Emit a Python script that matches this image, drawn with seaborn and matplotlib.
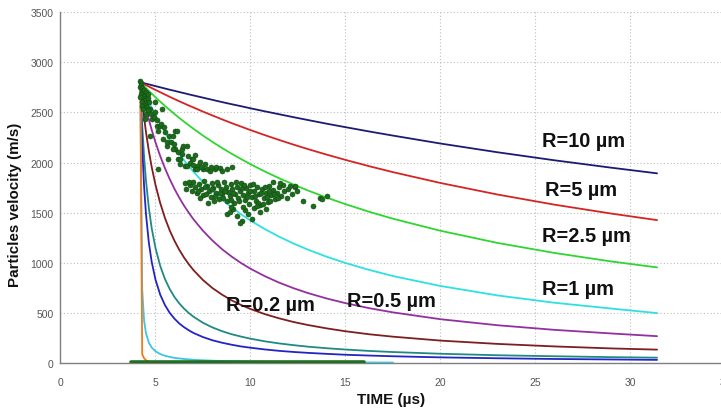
import numpy as np
import pandas as pd
import matplotlib
matplotlib.use("Agg")
import matplotlib.pyplot as plt
import seaborn as sns

# ---------------------------------------------------------------- data
# common time grid (µs) for the computed particle velocity curves
time_us = [4.2, 4.3, 4.4, 4.5, 4.65, 4.8, 5.0, 5.25, 5.5, 5.75, 6.0, 6.25,
           6.5, 6.75, 7.0, 7.5, 8.0, 8.5, 9.0, 9.5, 10.0, 10.75, 11.5, 12.25,
           13.0, 14.0, 15.0, 16.25, 17.5, 20.0, 23.0, 26.0, 29.0, 31.4]

nan = float("nan")

# particle velocity (m/s) for each particle radius
v_r10 = [2800, 2795, 2790, 2785, 2778, 2771, 2761, 2749, 2737, 2725, 2714, 2702,
         2691, 2679, 2668, 2646, 2624, 2602, 2581, 2561, 2540, 2510, 2481, 2452,
         2424, 2387, 2352, 2309, 2268, 2189, 2102, 2022, 1948, 1892]
v_r5 = [2800, 2790, 2780, 2771, 2756, 2742, 2723, 2700, 2677, 2654, 2632, 2610,
        2589, 2568, 2548, 2507, 2468, 2430, 2393, 2358, 2323, 2273, 2225, 2179,
        2135, 2079, 2026, 1963, 1904, 1796, 1681, 1580, 1491, 1426]
v_r2_5 = [2800, 2780, 2761, 2742, 2713, 2686, 2650, 2606, 2563, 2523, 2483, 2444,
          2407, 2371, 2336, 2268, 2205, 2145, 2088, 2035, 1983, 1911, 1844, 1782,
          1723, 1651, 1585, 1509, 1440, 1320, 1199, 1099, 1014, 955]
v_r1 = [2800, 2754, 2709, 2666, 2604, 2545, 2470, 2382, 2301, 2224, 2153, 2086,
        2023, 1964, 1908, 1805, 1713, 1630, 1554, 1485, 1422, 1337, 1262, 1194,
        1134, 1062, 999, 930, 869, 770, 676, 603, 545, 500]
v_r0_5 = [2800, 2708, 2622, 2541, 2428, 2326, 2201, 2063, 1942, 1834, 1737, 1650,
          1571, 1500, 1434, 1320, 1222, 1137, 1064, 999, 942, 868, 804, 749,
          701, 646, 599, 549, 507, 439, 379, 333, 297, 270]
v_r0_2 = [2800, 2612, 2448, 2303, 2115, 1955, 1777, 1595, 1446, 1323, 1220, 1131,
          1054, 987, 928, 829, 749, 684, 628, 581, 541, 490, 448, 412,
          382, 348, 319, 289, 265, 226, 193, 168, 148, 136]
v_r0_1 = [2800, 2373, 2059, 1818, 1547, 1346, 1148, 969, 838, 739, 660, 597,
          545, 501, 464, 403, 357, 320, 290, 266, 245, 219, 198, 181,
          166, 150, 137, 123, 112, 95, 80, 70, 61, 56]
v_r0_05 = [2800, 2162, 1761, 1485, 1203, 1011, 833, 683, 579, 502, 444, 397,
           360, 329, 302, 261, 229, 205, 185, 168, 155, 138, 124, 113,
           104, 94, 85, 77, 70, 59, 50, 43, 38, 34]
v_r0_02 = [2800, 737, 424, 298, 206, 157, 120, 92, 75, 63, 54, 48,
           43, 39, 35, 30, 26, 23, 21, 19, 17, 15, 14, 12,
           11, 10, 9, 8, 7.5, nan, nan, nan, nan, nan]
v_r0_01 = [2800, 90, 50, 30, 18, 12, 8, 5, 3, 2, 1, nan,
           nan, nan, nan, nan, nan, nan, nan, nan, nan, nan, nan, nan,
           nan, nan, nan, nan, nan, nan, nan, nan, nan, nan]

# measured particle velocities
meas_t = [
    4.18, 4.22, 4.25, 4.20, 4.30, 4.28, 4.35, 4.24, 4.40, 4.32, 4.45, 4.28, 4.50,
    4.38, 4.55, 4.60, 4.42, 4.50, 4.65, 4.30, 4.70, 4.35, 4.62, 4.20, 4.48,
    4.97, 5.33, 4.45, 4.80, 5.06, 5.15, 6.03, 5.41, 5.59, 6.03, 6.38, 6.64,
    5.67, 6.20, 6.91, 6.55, 7.17, 7.52, 7.08, 5.15, 8.13, 8.75, 9.01,
    5.24, 6.12, 4.71, 5.59, 5.94, 6.46, 6.29, 6.64, 7.17, 7.69, 6.99, 7.34, 7.87,
    4.60, 4.75, 4.90, 5.00, 5.10, 5.30, 5.50, 5.70, 5.80, 6.00, 6.20, 6.40, 6.70,
    6.80, 7.00, 7.40, 7.60, 7.90, 8.20, 8.40, 8.50, 6.30, 7.10, 5.90, 5.45,
    6.55, 6.60, 6.80, 6.90, 7.00, 7.10, 7.20, 7.30, 7.40, 7.50, 7.55, 7.70, 7.80,
    7.90, 8.00, 8.05, 8.20, 8.30, 8.35, 8.45, 8.50, 8.60, 8.70, 8.75, 8.80, 8.90,
    9.00, 9.05, 9.15, 9.20, 9.30, 9.35, 9.45, 9.50, 9.60, 9.70, 9.75, 9.85, 9.90,
    10.00, 10.10, 10.20, 10.30, 10.35, 10.45, 10.50, 10.60, 10.70, 10.80, 10.90,
    11.00, 11.10, 11.20, 11.30, 11.40, 11.50, 11.60, 11.75, 11.90, 12.00, 12.20,
    12.35, 7.75, 8.10,
    7.25, 7.65, 7.95, 8.25, 8.55, 8.65, 8.95, 9.10, 9.25, 9.40, 9.55, 9.80, 9.95,
    10.15, 10.25, 10.40, 10.55, 10.75, 10.85, 11.05, 11.25, 11.45, 7.35, 8.15,
    6.75, 7.60, 8.40, 9.65, 10.95, 11.70,
    8.75, 8.92, 9.10, 9.30, 9.54, 9.45, 9.70, 9.88, 10.06, 10.20, 10.33, 10.50,
    10.67, 10.80, 9.60, 9.00,
    11.55, 12.08, 12.34, 12.43, 12.78, 13.31, 13.66, 13.75, 14.01, 11.20,
]
meas_v = [
    2810, 2790, 2770, 2750, 2740, 2710, 2690, 2680, 2660, 2640, 2620, 2600, 2590,
    2570, 2550, 2640, 2720, 2700, 2600, 2560, 2530, 2530, 2680, 2650, 2480,
    2603, 2533, 2433, 2433, 2367, 2317, 2317, 2230, 2167, 2134, 2134, 2167,
    2035, 2035, 2035, 1968, 1968, 1935, 1935, 1935, 1935, 1935, 1952,
    2367, 2317, 2267, 2201, 2134, 2167, 2035, 1968, 1935, 1935, 2035, 2002, 1918,
    2520, 2480, 2450, 2500, 2420, 2380, 2300, 2260, 2200, 2180, 2100, 2080, 2060,
    2000, 1980, 1960, 1990, 1960, 1960, 1945, 1920, 1990, 2070, 2260, 2350,
    1800, 1740, 1780, 1720, 1810, 1760, 1700, 1790, 1740, 1680, 1820, 1770, 1720,
    1660, 1800, 1750, 1700, 1780, 1640, 1740, 1690, 1810, 1760, 1620, 1710, 1670,
    1790, 1740, 1600, 1690, 1760, 1650, 1720, 1800, 1680, 1630, 1750, 1700, 1590,
    1780, 1660, 1720, 1620, 1760, 1690, 1580, 1740, 1650, 1700, 1610,
    1770, 1680, 1730, 1640, 1700, 1760, 1670, 1720, 1650, 1740, 1690,
    1760, 1600, 1620,
    1720, 1690, 1740, 1810, 1650, 1720, 1630, 1700, 1810, 1620, 1750, 1660, 1720,
    1790, 1670, 1600, 1700, 1760, 1660, 1620, 1690, 1650, 1650, 1670,
    1810, 1760, 1700, 1780, 1720, 1780,
    1490, 1505, 1540, 1470, 1420, 1395, 1530, 1485, 1440, 1550, 1570, 1505,
    1585, 1540, 1560, 1560,
    1800, 1770, 1765, 1720, 1620, 1570, 1650, 1635, 1670, 1810,
]

# measurements recorded at rest
rest_t = [3.7, 16.0]
rest_v = [12, 12]

x_ticks = [0, 5, 10, 15, 20, 25, 30, 35]
y_ticks = [0, 500, 1000, 1500, 2000, 2500, 3000, 3500]

curves = [
    (v_r10, "#1b1b72"),
    (v_r5, "#d42424"),
    (v_r2_5, "#2fd62f"),
    (v_r1, "#2fe0e0"),
    (v_r0_5, "#93309f"),
    (v_r0_2, "#7e1e1e"),
    (v_r0_1, "#1f8a82"),
    (v_r0_05, "#2424c4"),
    (v_r0_02, "#3cc6e6"),
    (v_r0_01, "#f07a1e"),
]

labels = [
    ("R=10 µm", 25.34, 2224),
    ("R=5 µm", 25.5, 1736),
    ("R=2.5 µm", 25.34, 1268),
    ("R=1 µm", 25.34, 740),
    ("R=0.5 µm", 15.08, 630),
    ("R=0.2 µm", 8.71, 590),
]

# ---------------------------------------------------------------- style
sns.set_style("white")
plt.rcParams["font.family"] = ["Liberation Sans", "DejaVu Sans"]

fig = plt.figure(figsize=(7.21, 4.10), dpi=100)
ax = fig.add_axes([0.0839, 0.1115, 0.9223, 0.857])

for vals, color in curves:
    df = pd.DataFrame({"t": time_us, "v": vals}).dropna()
    sns.lineplot(data=df, x="t", y="v", color=color, lw=1.3, ax=ax,
                 estimator=None, sort=False, legend=False, zorder=3)

sns.scatterplot(x=meas_t, y=meas_v, color="#1c6c1c", s=13,
                edgecolor="#0f4a10", linewidth=0.4, ax=ax, zorder=5, legend=False)

sns.lineplot(x=rest_t, y=rest_v, color="#1f711f", lw=2.6, ax=ax,
             estimator=None, sort=False, legend=False, zorder=6)

for text, tx, ty in labels:
    ax.text(tx, ty, text, fontsize=14.4, fontweight="bold", color="#111111",
            ha="left", va="center", zorder=7)

ax.set_xlim(0, 35)
ax.set_ylim(0, 3500)
ax.set_xticks(x_ticks)
ax.set_yticks(y_ticks)

ax.grid(True, color="#bdbdbd", linestyle=(0, (1, 2)), linewidth=0.8)
ax.set_axisbelow(True)
for side in ("top", "right"):
    ax.spines[side].set_visible(False)
for side in ("left", "bottom"):
    ax.spines[side].set_color("#808080")
    ax.spines[side].set_linewidth(1.0)

ax.tick_params(axis="both", direction="out", length=3, width=0.8,
               color="#808080", labelsize=7.5, labelcolor="#555555")
ax.tick_params(axis="x", pad=7)
ax.tick_params(axis="y", pad=2)

ax.set_xlabel("TIME (µs)", fontsize=11, fontweight="bold", color="#111111")
ax.xaxis.set_label_coords(0.497, -0.1016)
ax.xaxis.label.set_verticalalignment("center")

ax.set_ylabel("Particles velocity (m/s)", fontsize=10.9, fontweight="bold",
              color="#111111")
ax.yaxis.set_label_coords(-0.0677, 0.453)
ax.yaxis.label.set_verticalalignment("center")

fig.savefig("out.png", dpi=100, facecolor="white")
